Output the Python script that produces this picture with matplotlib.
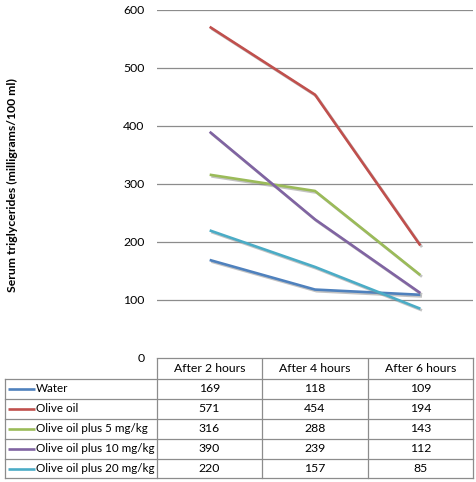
import matplotlib.pyplot as plt
import matplotlib.patheffects as pe

categories = ["After 2 hours", "After 4 hours", "After 6 hours"]
series_names = ["Water", "Olive oil", "Olive oil plus 5 mg/kg",
                "Olive oil plus 10 mg/kg", "Olive oil plus 20 mg/kg"]
water = [169, 118, 109]
olive_oil = [571, 454, 194]
olive_5 = [316, 288, 143]
olive_10 = [390, 239, 112]
olive_20 = [220, 157, 85]
series_values = [water, olive_oil, olive_5, olive_10, olive_20]
colors = ["#4F81BD", "#C0504D", "#9BBB59", "#8064A2", "#4BACC6"]
yticks = [0, 100, 200, 300, 400, 500, 600]

plt.rcParams['font.family'] = ['Lato', 'DejaVu Sans']

W, H = 477, 482
fig = plt.figure(figsize=(W / 100, H / 100), dpi=100)
ax = fig.add_axes([157 / W, (H - 358) / H, 316 / W, 348 / H])

x = list(range(len(categories)))
shadow = [pe.SimpleLineShadow(offset=(1.2, -1.2), shadow_color='#888888', alpha=0.5),
          pe.Normal()]
for name, vals, c in zip(series_names, series_values, colors):
    ax.plot(x, vals, color=c, lw=1.9, solid_capstyle='butt', path_effects=shadow, zorder=3)

ax.set_xlim(-0.5, len(categories) - 0.5)
ax.set_ylim(0, 600)
ax.set_yticks(yticks)
ax.set_xticks([])
ax.yaxis.grid(True, color='#8c8c8c', lw=0.9)
ax.set_axisbelow(True)
for s in ax.spines.values():
    s.set_visible(False)
ax.tick_params(axis='y', length=0, pad=9, labelsize=8.8)

fig.text(12 / W, 1 - 185 / H, "Serum triglycerides (milligrams/100 ml)",
         rotation=90, ha='center', va='center', fontsize=8.8, fontweight='bold')

# data table under the plot, drawn in pixel coordinates
tb = fig.add_axes([0, 0, 1, 1], zorder=-1)
tb.set_xlim(0, W)
tb.set_ylim(H, 0)
tb.axis('off')

col_x = [5, 157, 262, 368, 473]
row_y = [358, 379, 399, 419, 439, 459, 478]
grid_kw = dict(color='#8c8c8c', lw=0.9)

# horizontal lines
tb.plot([col_x[1], col_x[-1]], [row_y[0], row_y[0]], **grid_kw)
for yy in row_y[1:]:
    tb.plot([col_x[0], col_x[-1]], [yy, yy], **grid_kw)
# vertical lines
tb.plot([col_x[0], col_x[0]], [row_y[1], row_y[-1]], **grid_kw)
for xx in col_x[1:]:
    tb.plot([xx, xx], [row_y[0], row_y[-1]], **grid_kw)

fs = 8.8
for j, cat in enumerate(categories):
    tb.text((col_x[j + 1] + col_x[j + 2]) / 2, (row_y[0] + row_y[1]) / 2, cat,
            ha='center', va='center', fontsize=fs)

for i, (name, vals, c) in enumerate(zip(series_names, series_values, colors)):
    yc = (row_y[i + 1] + row_y[i + 2]) / 2
    tb.plot([8, 35], [yc, yc], color=c, lw=1.9, solid_capstyle='butt')
    tb.text(36, yc, name, ha='left', va='center', fontsize=8.4)
    for j, v in enumerate(vals):
        tb.text((col_x[j + 1] + col_x[j + 2]) / 2, yc, str(v),
                ha='center', va='center', fontsize=fs)

fig.savefig("out.png", dpi=100)
